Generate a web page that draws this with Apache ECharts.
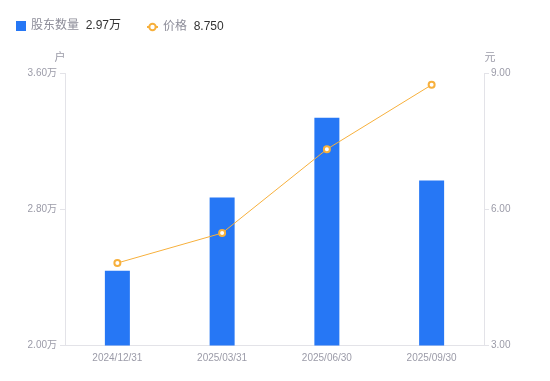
<!DOCTYPE html>
<html>
<head>
<meta charset="utf-8">
<script src="https://cdn.jsdelivr.net/npm/echarts@6/dist/echarts.min.js"></script>
<style>html,body{margin:0;padding:0;background:#fff;}#c{width:550px;height:381px;}</style>
</head>
<body>
<div id="c"></div>
<script>
var categories = ['2024/12/31', '2025/03/31', '2025/06/30', '2025/09/30'];
var holders = [2.44, 2.87, 3.34, 2.97];   // 万户
var prices = [4.82, 5.48, 7.33, 8.75];    // 元
var leftTicks = {min: 2.0, max: 3.6, interval: 0.8};
var rightTicks = {min: 3, max: 9, interval: 3};
var legendValues = {'股东数量': '2.97万', '价格': '8.750'};

var chart = echarts.init(document.getElementById('c'), null, {renderer: 'canvas'});
var axisGrey = '#9b9ba8';
var lineGrey = '#e3e3e8';
var fontFam = '"Liberation Sans", Arial, "Noto Sans CJK SC", sans-serif';
function legendFmt(n) { return '{a|' + n + '}  {b|' + legendValues[n] + '}'; }
var legendText = {
  fontFamily: fontFam,
  rich: {
    a: {color: '#8d8d99', fontSize: 12, fontFamily: fontFam},
    b: {color: '#333333', fontSize: 12, fontFamily: fontFam}
  }
};
chart.setOption({
  animation: false,
  textStyle: {fontFamily: fontFam},
  legend: [
    {
      left: 11, top: 15,
      itemWidth: 10, itemHeight: 10,
      data: [{name: '股东数量', icon: 'rect'}],
      formatter: legendFmt,
      textStyle: legendText
    },
    {
      left: 141, top: 16,
      itemWidth: 11, itemHeight: 8,
      data: [{name: '价格'}],
      formatter: legendFmt,
      textStyle: legendText
    }
  ],
  grid: {left: 65, right: 66, top: 73.5, bottom: 35.5},
  xAxis: {
    type: 'category',
    data: categories,
    axisLine: {lineStyle: {color: lineGrey}},
    axisTick: {show: false},
    axisLabel: {color: axisGrey, fontSize: 10, margin: 8}
  },
  yAxis: [
    {
      type: 'value', name: '户', min: leftTicks.min, max: leftTicks.max, interval: leftTicks.interval,
      nameTextStyle: {color: axisGrey, fontSize: 11, padding: [0, 10, 0, 0]},
      nameGap: 10,
      axisLine: {show: true, lineStyle: {color: lineGrey}},
      axisTick: {show: true, length: 5, lineStyle: {color: lineGrey}},
      splitLine: {show: false},
      axisLabel: {color: axisGrey, fontSize: 10, margin: 8, formatter: function (v) { return v.toFixed(2) + '万'; }}
    },
    {
      type: 'value', name: '元', min: rightTicks.min, max: rightTicks.max, interval: rightTicks.interval,
      nameTextStyle: {color: axisGrey, fontSize: 11, padding: [0, 0, 0, 12]},
      nameGap: 10,
      axisLine: {show: true, lineStyle: {color: lineGrey}},
      axisTick: {show: true, length: 5, lineStyle: {color: lineGrey}},
      splitLine: {show: false},
      axisLabel: {color: axisGrey, fontSize: 10, margin: 7, formatter: function (v) { return v.toFixed(2); }}
    }
  ],
  series: [
    {
      name: '股东数量', type: 'bar', data: holders, yAxisIndex: 0,
      barWidth: 25,
      itemStyle: {color: '#2677f5'}
    },
    {
      name: '价格', type: 'line', data: prices, yAxisIndex: 1,
      symbol: 'emptyCircle', symbolSize: 6,
      lineStyle: {color: '#f7b03c', width: 1},
      itemStyle: {color: '#f7b03c', borderWidth: 2}
    }
  ]
});
</script>
</body>
</html>
